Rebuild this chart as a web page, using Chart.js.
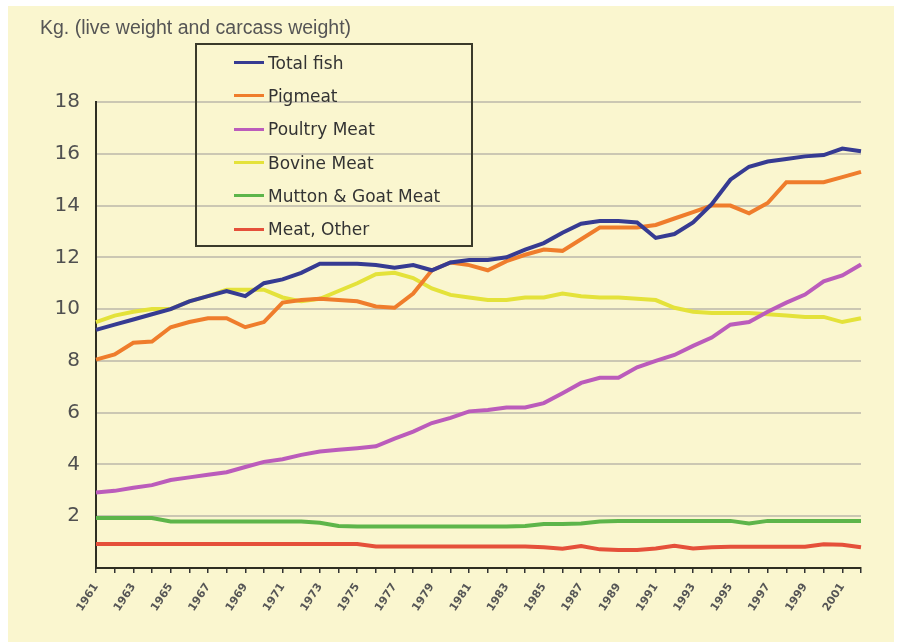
<!DOCTYPE html>
<html>
<head>
<meta charset="utf-8">
<script src="https://cdn.jsdelivr.net/npm/chart.js@4.4.0/dist/chart.umd.min.js"></script>
<style>
  html, body { margin: 0; padding: 0; background: #fff; }
  #paper { position: absolute; left: 8px; top: 6px; width: 886px; height: 636px; background: #faf6cf; }
  #wrap { position: absolute; left: 0; top: 0; width: 898px; height: 644px; }
  #unit { position: absolute; left: 40px; top: 16px; font: 19.5px "Liberation Sans", Arial, sans-serif; color: #555; white-space: nowrap; }
  #legend { position: absolute; left: 195px; top: 43px; width: 274px; height: 200px; border: 2px solid #3a3a2a; box-sizing: content-box; }
  #legend ul { list-style: none; margin: 0; padding: 1px 0 0 0; }
  #legend li { height: 33.3px; display: flex; align-items: center; font: 17px "DejaVu Sans", sans-serif; color: #333; white-space: nowrap; }
  #legend li span { display: inline-block; width: 30px; height: 3px; margin: 0 4px 0 37px; }
</style>
</head>
<body>
<div id="paper"></div>
<div id="wrap"><canvas id="myChart" width="898" height="644"></canvas></div>
<div id="unit">Kg. (live weight and carcass weight)</div>
<div id="legend"></div>
<script>
'use strict'
let years = ['1961','1962','1963','1964','1965','1966','1967','1968','1969','1970',
  '1971','1972','1973','1974','1975','1976','1977','1978','1979','1980',
  '1981','1982','1983','1984','1985','1986','1987','1988','1989','1990',
  '1991','1992','1993','1994','1995','1996','1997','1998','1999','2000',
  '2001','2002'];

let totalFish = [9.2, 9.4, 9.6, 9.8, 10.0, 10.3, 10.5, 10.7, 10.5, 11.0,
  11.15, 11.4, 11.75, 11.75, 11.75, 11.7, 11.6, 11.7, 11.5, 11.8,
  11.9, 11.9, 12.0, 12.3, 12.55, 12.95, 13.3, 13.4, 13.4, 13.35,
  12.75, 12.9, 13.35, 14.05, 15.0, 15.5, 15.7, 15.8, 15.9, 15.95,
  16.2, 16.1];
let pigmeat = [8.05, 8.25, 8.7, 8.75, 9.3, 9.5, 9.65, 9.65, 9.3, 9.5,
  10.25, 10.35, 10.4, 10.35, 10.3, 10.1, 10.05, 10.6, 11.5, 11.8,
  11.7, 11.5, 11.85, 12.1, 12.3, 12.25, 12.7, 13.15, 13.15, 13.15,
  13.25, 13.5, 13.75, 14.0, 14.0, 13.7, 14.1, 14.9, 14.9, 14.9,
  15.1, 15.3];
let poultry = [2.92, 2.98, 3.1, 3.2, 3.4, 3.5, 3.6, 3.7, 3.9, 4.1,
  4.2, 4.37, 4.5, 4.57, 4.63, 4.7, 5.0, 5.27, 5.6, 5.8,
  6.05, 6.1, 6.2, 6.2, 6.37, 6.75, 7.15, 7.35, 7.35, 7.75,
  8.0, 8.23, 8.58, 8.9, 9.4, 9.5, 9.9, 10.25, 10.56, 11.07,
  11.3, 11.72];
let bovine = [9.5, 9.75, 9.9, 10.0, 10.0, 10.3, 10.5, 10.75, 10.75, 10.75,
  10.45, 10.3, 10.4, 10.7, 11.0, 11.35, 11.4, 11.2, 10.8, 10.55,
  10.45, 10.35, 10.35, 10.45, 10.45, 10.6, 10.5, 10.45, 10.45, 10.4,
  10.35, 10.05, 9.9, 9.85, 9.85, 9.85, 9.8, 9.75, 9.7, 9.7,
  9.5, 9.65];
let mutton = [1.93, 1.93, 1.93, 1.93, 1.8, 1.8, 1.8, 1.8, 1.8, 1.8,
  1.8, 1.8, 1.75, 1.62, 1.6, 1.6, 1.6, 1.6, 1.6, 1.6,
  1.6, 1.6, 1.6, 1.62, 1.7, 1.7, 1.72, 1.8, 1.82, 1.82,
  1.82, 1.82, 1.82, 1.82, 1.82, 1.72, 1.82, 1.82, 1.82, 1.82,
  1.82, 1.82];
let meatOther = [0.93, 0.93, 0.93, 0.93, 0.93, 0.93, 0.93, 0.93, 0.93, 0.93,
  0.93, 0.93, 0.93, 0.93, 0.93, 0.83, 0.83, 0.83, 0.83, 0.83,
  0.83, 0.83, 0.83, 0.83, 0.8, 0.74, 0.85, 0.72, 0.7, 0.7,
  0.75, 0.86, 0.75, 0.8, 0.82, 0.82, 0.82, 0.82, 0.82, 0.92,
  0.9, 0.8];

let seriesNames = ['Total fish', 'Pigmeat', 'Poultry Meat', 'Bovine Meat', 'Mutton & Goat Meat', 'Meat, Other'];
let seriesColors = ['#363b92', '#ef7d2c', '#bb5cbb', '#e4e23a', '#5db54a', '#e5503a'];
let seriesData = [totalFish, pigmeat, poultry, bovine, mutton, meatOther];

let datasets = [];
for (let i = 0; i < seriesNames.length; i++) {
  datasets.push({
    label: seriesNames[i],
    data: seriesData[i],
    borderColor: seriesColors[i],
    backgroundColor: seriesColors[i],
    borderWidth: 4,
    pointRadius: 0,
    tension: 0,
    fill: false
  });
}

// legend box built from the chart datasets
function buildLegend(chart) {
  let box = document.getElementById('legend');
  let ul = document.createElement('ul');
  chart.data.datasets.forEach(function (ds) {
    let li = document.createElement('li');
    let sw = document.createElement('span');
    sw.style.background = ds.borderColor;
    li.appendChild(sw);
    li.appendChild(document.createTextNode(ds.label));
    ul.appendChild(li);
  });
  box.appendChild(ul);
}

var ctx = document.getElementById('myChart').getContext('2d');
var chart = new Chart(ctx, {
  type: 'line',
  data: { labels: years, datasets: datasets },
  options: {
    responsive: false,
    animation: false,
    layout: { padding: { top: 102, right: 37, left: 0, bottom: 0 } },
    plugins: { legend: { display: false }, tooltip: { enabled: false } },
    scales: {
      x: {
        afterFit: function (scale) { scale.height = 76; },
        grid: { drawOnChartArea: false, drawTicks: true, tickLength: 5, color: '#333', lineWidth: 1.5 },
        border: { color: '#2e2e22', width: 2 },
        ticks: {
          autoSkip: false, maxRotation: 57, minRotation: 57, padding: 8,
          color: '#555', font: { family: 'DejaVu Sans', size: 11, weight: 'bold' },
          callback: function (val, idx) { return idx % 2 === 0 ? this.getLabelForValue(val) : ''; }
        }
      },
      y: {
        min: 0, max: 18,
        afterFit: function (scale) { scale.width = 96; },
        grid: { drawTicks: false, color: '#cbc7b3', lineWidth: 2 },
        border: { color: '#2e2e22', width: 2 },
        ticks: {
          stepSize: 2, padding: 16,
          color: '#505050', font: { family: 'DejaVu Sans', size: 20 },
          callback: function (v) { return v === 0 ? '' : v; }
        }
      }
    }
  }
});
buildLegend(chart);
</script>
</body>
</html>
